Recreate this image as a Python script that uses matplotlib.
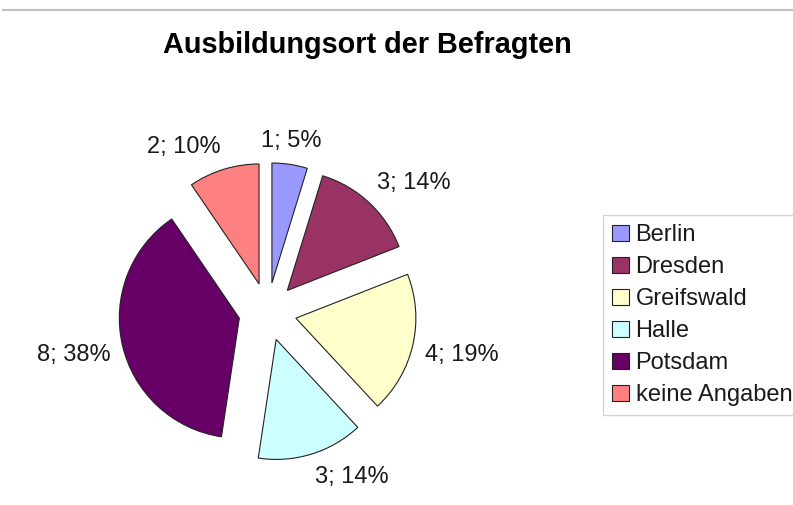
import numpy as np
import matplotlib
matplotlib.use("Agg")
import matplotlib.pyplot as plt
from matplotlib.lines import Line2D

# ── Daten ──────────────────────────────────────────
orte = ["Berlin", "Dresden", "Greifswald", "Halle", "Potsdam", "keine Angaben"]
anzahl = [1, 3, 4, 3, 8, 2]
farben = ["#9999FF", "#993366", "#FFFFCC", "#CCFFFF", "#660066", "#FF8080"]
titel = "Ausbildungsort der Befragten"

plt.rcParams["font.family"] = ["Liberation Sans", "DejaVu Sans"]

W, H = 793, 505
fig = plt.figure(figsize=(W / 100, H / 100), dpi=100)
ax = fig.add_axes([0, 0, 1, 1])

# Pixelkoordinaten (y nach oben)
mitte = (267.6, H - 311.7)
radius = 120
explode = [29] * len(anzahl)

gesamt = sum(anzahl)
wedges, _ = ax.pie(
    anzahl, colors=farben, startangle=90, counterclock=False,
    center=mitte, radius=radius, explode=explode,
    wedgeprops=dict(edgecolor="#222222", linewidth=0.8),
)
ax.set_xlim(0, W)
ax.set_ylim(0, H)
ax.set_aspect("auto")
ax.axis("off")

# Beschriftungen "Anzahl; Prozent" außen an den Segmenten
for w, n in zip(wedges, anzahl):
    tm = np.deg2rad((w.theta1 + w.theta2) / 2)
    ux, uy = np.cos(tm), np.sin(tm)
    d = w.r + 12
    xa = w.center[0] + d * ux
    ya = w.center[1] + d * uy
    if abs(ux) < 0.2:
        ha = "center"
    else:
        ha = "left" if ux > 0 else "right"
    va = "bottom" if uy > 0 else "top"
    if abs(uy) < 0.3:
        ya += 4  # seitliche Labels etwas höher
    ax.text(xa, ya, f"{n}; {round(100 * n / gesamt)}%", ha=ha, va=va,
            fontsize=17, color="#1a1a1a")

fig.text(367 / W, 1 - 53.3 / H, titel, ha="center", va="baseline",
         fontsize=20.8, fontweight="bold", color="black")

leg = ax.legend(
    wedges, orte, loc="upper left",
    bbox_to_anchor=(603 / W, 1 - 215 / H), bbox_transform=fig.transFigure,
    fontsize=17, frameon=True, fancybox=False, borderaxespad=0,
    handlelength=0.68, handleheight=0.68, handletextpad=0.3,
    labelspacing=0.42, borderpad=0.4,
)
leg.get_frame().set_edgecolor("#c8c8c8")
leg.get_frame().set_linewidth(1.0)
for t in leg.get_texts():
    t.set_color("#1a1a1a")

# graue Linie oben
fig.add_artist(Line2D([3 / W, 1], [1 - 9.5 / H, 1 - 9.5 / H],
                      transform=fig.transFigure, color="#c0c0c0", linewidth=1.5))

fig.savefig("out.png", dpi=100)
